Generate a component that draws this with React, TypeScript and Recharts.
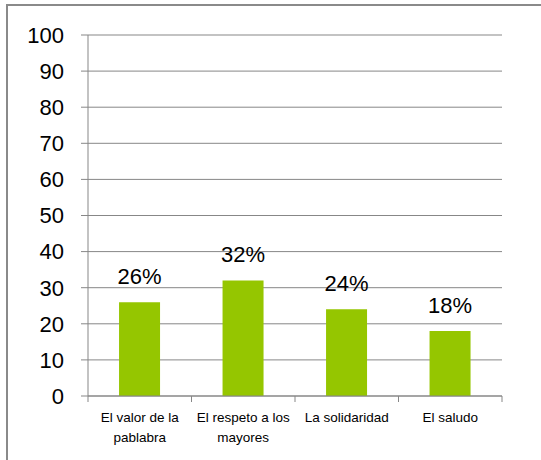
import React from 'react';
import { BarChart, Bar, XAxis, YAxis, CartesianGrid, LabelList } from 'recharts';

const categories = ['El valor de la pablabra', 'El respeto a los mayores', 'La solidaridad', 'El saludo'];
const categoryLines = [['El valor de la', 'pablabra'], ['El respeto a los', 'mayores'], ['La solidaridad'], ['El saludo']];
const values = [26, 32, 24, 18];
const yTicks = [0, 10, 20, 30, 40, 50, 60, 70, 80, 90, 100];

const data = categories.map((name, i) => ({ name, value: values[i] }));

const GRID = '#878787';
const FONT = '"Liberation Sans", Arial, sans-serif';
const STEP = 103.5;

const CategoryTick = (props: any) => {
    const { x, y, index } = props;
    const lines = categoryLines[index] || [];
    return (
        <g>
            <line x1={x - STEP / 2} x2={x - STEP / 2} y1={y} y2={y + 6} stroke={GRID} />
            {index === categories.length - 1 && (
                <line x1={x + STEP / 2} x2={x + STEP / 2} y1={y} y2={y + 6} stroke={GRID} />
            )}
            {lines.map((l: string, i: number) => (
                <text
                    key={i}
                    x={x}
                    y={y + 26 + i * 20}
                    textAnchor="middle"
                    fontSize={13.5}
                    fontFamily={FONT}
                    fill="#000"
                >
                    {l}
                </text>
            ))}
        </g>
    );
};

export default function App() {
    return (
        <div style={{ position: 'absolute', left: 0, top: 0, width: 541, height: 460, background: '#fff' }}>
            <div
                style={{
                    position: 'absolute',
                    left: 6,
                    top: 4,
                    width: 540,
                    height: 460,
                    borderTop: '2px solid #8a8a8a',
                    borderLeft: '2px solid #8a8a8a',
                }}
            />
            <div style={{ position: 'absolute', left: 0, top: 0 }}>
                <BarChart
                    width={541}
                    height={460}
                    data={data}
                    margin={{ top: 35, right: 39, bottom: 0, left: 0 }}
                    barCategoryGap="30%"
                >
                    <CartesianGrid vertical={false} stroke={GRID} />
                    <XAxis
                        dataKey="name"
                        height={64}
                        interval={0}
                        tickLine={false}
                        tickSize={0}
                        tickMargin={0}
                        axisLine={{ stroke: GRID }}
                        tick={<CategoryTick />}
                    />
                    <YAxis
                        width={88}
                        domain={[0, 100]}
                        ticks={yTicks}
                        interval={0}
                        tickSize={7}
                        tickMargin={17}
                        axisLine={{ stroke: GRID }}
                        tickLine={{ stroke: GRID }}
                        tick={{ fontSize: 22, fontFamily: FONT, fill: '#000' }}
                    />
                    <Bar dataKey="value" fill="#95C600" isAnimationActive={false}>
                        <LabelList
                            dataKey="value"
                            position="top"
                            offset={18}
                            formatter={(v: any) => `${v}%`}
                            style={{ fontSize: 22, fontFamily: FONT, fill: '#000' }}
                        />
                    </Bar>
                </BarChart>
            </div>
        </div>
    );
}
